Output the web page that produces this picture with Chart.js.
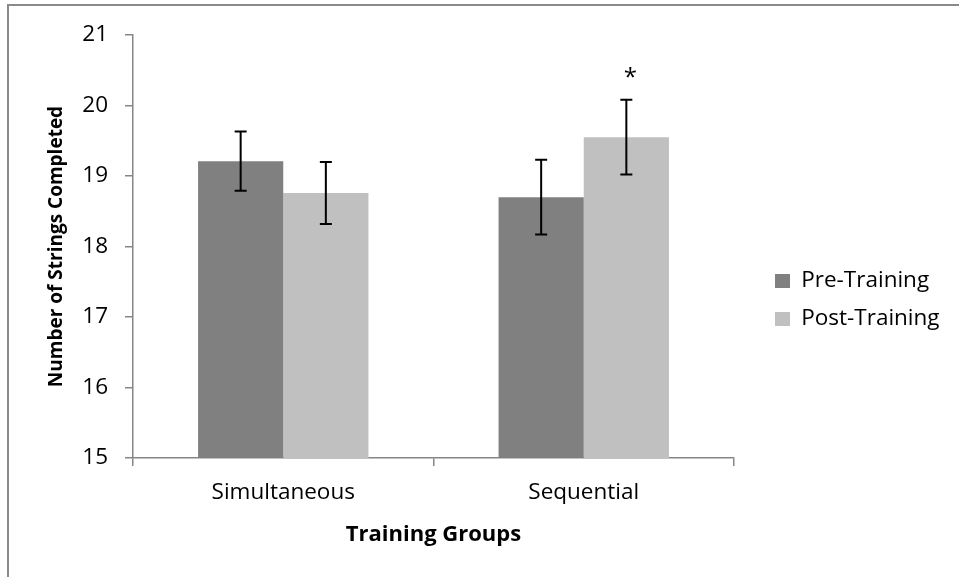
<!DOCTYPE html>
<html>
<head>
<meta charset="utf-8">
<script src="https://cdn.jsdelivr.net/npm/chart.js@4.4.1/dist/chart.umd.min.js"></script>
<style>
  html, body { margin: 0; padding: 0; background: #fff; }
  #wrap { width: 959px; height: 577px; }
</style>
</head>
<body>
<div id="wrap"><canvas id="chart" width="959" height="577"></canvas></div>
<script>
// data
var groups = ['Simultaneous', 'Sequential']
var preTraining = [19.21, 18.70]
var postTraining = [18.76, 19.55]
var preErr = [0.42, 0.53]
var postErr = [0.44, 0.53]
var postMarks = ['', '*']
var yTicks = [15, 16, 17, 18, 19, 20, 21]

Chart.defaults.font.family = "'Open Sans', sans-serif"
Chart.defaults.font.size = 22.5
Chart.defaults.color = '#000'

var axisGrey = '#868686'

// grey frame on the top and left edge
var frame = {
  id: 'frame',
  beforeDraw(chart) {
    var ctx = chart.ctx
    ctx.save()
    ctx.fillStyle = '#fff'
    ctx.fillRect(0, 0, chart.width, chart.height)
    ctx.fillStyle = '#8a8a8a'
    ctx.fillRect(7, 4, chart.width - 7, 2)
    ctx.fillRect(7, 4, 2, chart.height - 4)
    ctx.restore()
  }
}

// fixed legend width so the legend sits where the reference has it
var legendWidth = {
  id: 'legendWidth',
  beforeLayout(chart) {
    var lg = chart.legend
    if (lg && !lg._fixed) {
      var fit = lg.fit
      lg.fit = function () { fit.call(this); this.width = 199.5 }
      lg._fixed = true
    }
  }
}

var errorBars = {
  id: 'errorBars',
  afterDatasetsDraw(chart) {
    var ctx = chart.ctx
    var y = chart.scales.y
    var errs = [preErr, postErr]
    ctx.save()
    ctx.strokeStyle = '#000'
    ctx.lineWidth = 2
    chart.data.datasets.forEach(function (ds, i) {
      var meta = chart.getDatasetMeta(i)
      meta.data.forEach(function (bar, j) {
        var v = ds.data[j], e = errs[i][j]
        var top = y.getPixelForValue(v + e)
        var bot = y.getPixelForValue(v - e)
        ctx.beginPath()
        ctx.moveTo(bar.x, top); ctx.lineTo(bar.x, bot)
        ctx.moveTo(bar.x - 6, top); ctx.lineTo(bar.x + 6, top)
        ctx.moveTo(bar.x - 6, bot); ctx.lineTo(bar.x + 6, bot)
        ctx.stroke()
        if (i == 1 && postMarks[j]) {
          ctx.fillStyle = '#000'
          ctx.font = "24px 'Open Sans'"
          ctx.textAlign = 'center'
          ctx.textBaseline = 'middle'
          ctx.fillText(postMarks[j], bar.x + 4, top - 22)
        }
      })
    })
    ctx.restore()
  }
}

var chart = new Chart(document.getElementById('chart'), {
  type: 'bar',
  data: {
    labels: groups,
    datasets: [{
      label: 'Pre-Training',
      backgroundColor: '#808080',
      data: preTraining
    }, {
      label: 'Post-Training',
      backgroundColor: '#c0c0c0',
      data: postTraining
    }]
  },
  options: {
    responsive: false,
    animation: false,
    layout: { padding: { top: 35, left: 0, right: 0, bottom: 0 } },
    datasets: { bar: { categoryPercentage: 0.567, barPercentage: 1 } },
    plugins: {
      tooltip: { enabled: false },
      legend: {
        position: 'right',
        align: 'start',
        title: { display: true, text: '', font: { size: 10, lineHeight: 1 }, padding: { top: 209.25, bottom: 0 } },
        labels: { boxWidth: 15, boxHeight: 14, padding: 15.5, color: '#000' }
      }
    },
    scales: {
      x: {
        grid: { drawOnChartArea: false, drawTicks: true, tickLength: 8, color: axisGrey, lineWidth: 1.5 },
        border: { color: axisGrey, width: 1.5 },
        ticks: { padding: 13.5, color: '#000' },
        title: { display: true, text: 'Training Groups', font: { size: 22, weight: 'bold' }, padding: { top: 0, bottom: 28.8 }, color: '#000' },
        afterFit: function (s) { s.height = 119 }
      },
      y: {
        min: 15,
        max: 21,
        afterBuildTicks: function (s) { s.ticks = yTicks.map(function (v) { return { value: v } }) },
        grid: { drawOnChartArea: false, drawTicks: true, tickLength: 8, color: axisGrey, lineWidth: 1.5 },
        border: { color: axisGrey, width: 1.5 },
        ticks: { padding: 17, color: '#000' },
        title: { display: true, text: 'Number of Strings Completed', font: { size: 19, weight: 'bold' }, padding: { top: 45.6, bottom: 0 }, color: '#000' },
        afterFit: function (s) { s.width = 133 }
      },
      gap: {
        type: 'linear',
        position: 'right',
        grid: { display: false },
        border: { display: false },
        ticks: { display: false },
        afterFit: function (s) { s.width = 25.5 }
      }
    }
  },
  plugins: [frame, legendWidth, errorBars]
})
</script>
</body>
</html>
